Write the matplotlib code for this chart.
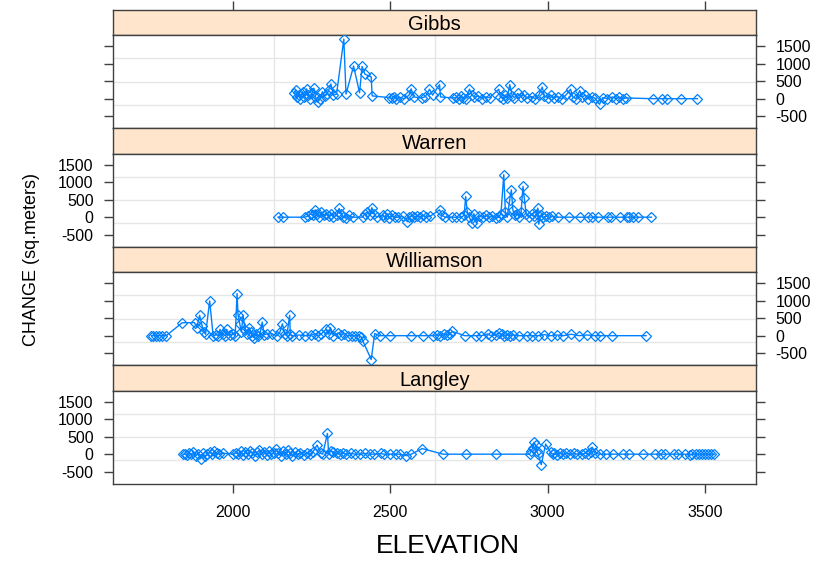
import matplotlib
matplotlib.use("Agg")
import matplotlib.pyplot as plt

plt.rcParams['font.family'] = ['Liberation Sans', 'DejaVu Sans']

sites = ["Gibbs", "Warren", "Williamson", "Langley"]

gibbs_elev = [2195, 2200, 2205, 2210, 2215, 2222, 2228, 2235, 2240, 2247, 2252, 2258, 2263, 2270,
              2278, 2285, 2292, 2300, 2305, 2312, 2320, 2330, 2353, 2360, 2384, 2403, 2411, 2420,
              2440, 2443, 2498, 2505, 2512, 2520, 2530, 2545, 2560, 2567, 2575, 2600, 2612, 2625,
              2635, 2657, 2660, 2700, 2710, 2718, 2725, 2732, 2740, 2752, 2760, 2768, 2780, 2792,
              2805, 2816, 2845, 2850, 2858, 2866, 2872, 2880, 2888, 2895, 2905, 2915, 2925, 2935,
              2950, 2960, 2972, 2983, 2990, 3000, 3010, 3020, 3032, 3045, 3058, 3073, 3080, 3090,
              3102, 3110, 3120, 3130, 3140, 3150, 3165, 3175, 3190, 3206, 3218, 3228, 3240, 3250,
              3334, 3365, 3378, 3425, 3476]
gibbs_change = [150, 250, 50, 100, 0, 200, 50, 280, 100, 0, 150, 300, 50, -100,
                0, 200, 80, 120, 250, 420, 100, 130, 1700, 130, 930, 170, 920, 700,
                620, 80, 30, 10, 60, 0, 40, 0, 100, 280, 50, 20, 60, 270,
                100, 400, 50, 20, 40, 0, 80, 30, 0, 270, 100, 40, 80, 0,
                50, 30, 270, 50, 0, 100, 30, 400, 80, 30, 150, 60, 100, 20,
                60, 0, 100, 330, 80, 30, 100, 20, 60, 0, 100, 270, 50, 0,
                230, 50, 100, 0, 60, 20, -160, 30, 0, 50, 0, 40, 0, 20,
                0, 0, 0, 0, 0]

warren_elev = [2144, 2160, 2229, 2240, 2248, 2255, 2262, 2268, 2275, 2282, 2290, 2298, 2305, 2312,
               2320, 2330, 2338, 2345, 2352, 2360, 2368, 2381, 2413, 2420, 2428, 2435, 2442, 2450,
               2457, 2476, 2482, 2490, 2498, 2505, 2515, 2525, 2540, 2555, 2560, 2568, 2575, 2585,
               2595, 2605, 2615, 2626, 2657, 2665, 2675, 2698, 2710, 2725, 2735, 2740, 2745, 2752,
               2759, 2766, 2775, 2782, 2794, 2805, 2815, 2825, 2837, 2845, 2852, 2861, 2866, 2872,
               2880, 2885, 2890, 2896, 2903, 2910, 2916, 2922, 2926, 2932, 2940, 2950, 2958, 2965,
               2969, 2972, 2978, 2985, 2995, 3005, 3015, 3032, 3067, 3102, 3128, 3140, 3159, 3191,
               3203, 3229, 3251, 3260, 3270, 3286, 3330]
warren_change = [0, 0, 0, 30, 100, 50, 210, 100, 0, 150, 50, 100, 20, 80,
                 0, 50, 250, 100, 0, -30, 60, 0, 0, 100, 150, 50, 270, 100,
                 0, 50, 0, 100, -20, 60, 0, 0, 20, -130, 0, 40, 0, 30,
                 0, 50, 0, 20, 210, 50, 0, 0, 0, 0, 50, 590, 150, 0,
                 -170, 100, -170, 30, 0, 50, 0, 30, -30, 0, 100, 1210, 150, 0,
                 500, 780, 200, 50, 100, 0, 150, 880, 560, 100, 0, 80, 20, 100,
                 260, -200, 50, 0, 30, 0, 20, 0, 0, 0, 0, 0, 0, 0,
                 0, 0, 0, 0, 0, 0, 0]

williamson_elev = [1742, 1748, 1755, 1765, 1775, 1789, 1840, 1879, 1886, 1895, 1903, 1910, 1914, 1927,
                   1938, 1948, 1955, 1960, 1968, 1975, 1981, 1990, 2000, 2008, 2014, 2017, 2023, 2028,
                   2033, 2040, 2045, 2052, 2058, 2063, 2068, 2075, 2082, 2088, 2094, 2100, 2110, 2125,
                   2140, 2150, 2158, 2165, 2172, 2181, 2183, 2190, 2210, 2230, 2250, 2260, 2270, 2280,
                   2296, 2305, 2310, 2320, 2335, 2345, 2355, 2365, 2380, 2390, 2400, 2408, 2414, 2440,
                   2451, 2467, 2499, 2567, 2604, 2635, 2650, 2660, 2672, 2680, 2690, 2698, 2737, 2772,
                   2790, 2810, 2820, 2835, 2845, 2855, 2862, 2870, 2880, 2890, 2910, 2935, 2952, 2969,
                   2990, 3010, 3030, 3050, 3075, 3100, 3125, 3150, 3165, 3205, 3313]
williamson_change = [0, 0, 0, 0, 0, 0, 370, 370, 230, 580, 280, 100, 40, 990,
                     0, 30, 0, 180, 50, 0, 180, 20, 60, 0, 1200, 600, 320, 100,
                     580, 150, 50, 230, 100, 0, -60, 50, 0, 100, 390, 30, 50, 50,
                     0, 100, 340, 60, 0, 580, 40, 0, 20, 0, 10, 60, 0, 40,
                     180, 40, 230, 0, 80, 30, 60, 0, 0, 0, 0, -30, -160, -680,
                     60, 0, 0, 0, 0, 0, 30, 0, 50, 20, 60, 120, 0, 0,
                     0, 50, 0, 20, 80, 40, 0, 30, 0, 20, 0, 0, 0, 0,
                     30, 0, 20, 0, 40, 0, 20, 0, 0, 0, 0]

langley_elev = [1842, 1850, 1856, 1862, 1868, 1875, 1882, 1890, 1898, 1905, 1912, 1920, 1928, 1935,
                1942, 1950, 1958, 1969, 2000, 2010, 2018, 2025, 2033, 2040, 2048, 2055, 2062, 2070,
                2078, 2085, 2092, 2100, 2108, 2115, 2122, 2130, 2138, 2145, 2152, 2160, 2168, 2175,
                2182, 2190, 2198, 2206, 2215, 2225, 2235, 2245, 2254, 2268, 2280, 2286, 2301, 2305,
                2312, 2320, 2330, 2340, 2350, 2360, 2375, 2390, 2405, 2420, 2435, 2450, 2470, 2480,
                2500, 2520, 2530, 2551, 2567, 2602, 2668, 2742, 2837, 2943, 2948, 2953, 2957, 2962,
                2966, 2970, 2980, 2994, 3010, 3016, 3022, 3030, 3040, 3050, 3060, 3072, 3085, 3095,
                3108, 3120, 3130, 3138, 3142, 3150, 3165, 3186, 3207, 3239, 3260, 3303, 3340, 3361,
                3372, 3403, 3414, 3435, 3451, 3460, 3470, 3480, 3490, 3500, 3510, 3520, 3530]
langley_change = [0, 0, -30, 30, 0, 50, -40, 0, -130, 20, -50, 0, 60, 0,
                  80, 20, 0, 30, 0, 40, 0, 80, -20, 60, 0, 100, 30, -40,
                  50, 120, 0, 60, -30, 100, 0, 40, 150, 20, -40, 80, 0, 120,
                  30, -50, 60, 0, 40, -30, 20, 0, 50, 260, 20, 0, 590, 0,
                  100, 60, 20, 0, 30, 0, 20, 0, 0, 20, 0, 0, 20, 0,
                  0, 0, 0, -40, 0, 160, 0, 0, 0, 0, 100, 170, 340, 250,
                  80, 0, -300, 290, 50, 0, 30, -20, 40, 0, 30, 0, 20, 0,
                  0, 30, 0, 60, 200, 30, 0, 0, 0, 0, 0, 0, 0, 0,
                  0, 0, 0, 0, -20, 0, 0, 0, 0, 0, 0, 0, 0]

elevs = [gibbs_elev, warren_elev, williamson_elev, langley_elev]
changes = [gibbs_change, warren_change, williamson_change, langley_change]

x_ticks = [2000, 2500, 3000, 3500]
y_ticks = [-500, 0, 500, 1000, 1500]
xlim = (1620, 3662)
ylim = (-836, 1816)

W, H = 821, 563
fig = plt.figure(figsize=(W / 100, H / 100), dpi=100)

left_px, right_px = 113, 756
top0 = 9.5
block = 118.5
strip_h = 25.5
panel_h = block - strip_h

frame_col = '#404040'
line_col = '#0080ff'
grid_col = '#e6e6e6'

def fy(px):
    return 1 - px / H

for i, site in enumerate(sites):
    btop = top0 + i * block
    # strip
    sax = fig.add_axes([left_px / W, fy(btop + strip_h), (right_px - left_px) / W, strip_h / H])
    sax.set_facecolor('#ffe5cc')
    sax.set_xlim(*xlim)
    sax.set_ylim(0, 1)
    sax.set_yticks([])
    for sp in sax.spines.values():
        sp.set_color(frame_col)
        sp.set_linewidth(1.0)
    sax.text(0.5, 0.40, site, transform=sax.transAxes, ha='center', va='center', fontsize=14.5)
    if i == 0:
        sax.xaxis.set_ticks_position('top')
        sax.set_xticks(x_ticks)
        sax.tick_params(axis='x', direction='out', length=6.5, width=1.0, color=frame_col,
                        labeltop=False, labelbottom=False, top=True, bottom=False)
    else:
        sax.set_xticks([])

    # panel
    ax = fig.add_axes([left_px / W, fy(btop + block), (right_px - left_px) / W, panel_h / H])
    ax.set_xlim(*xlim)
    ax.set_ylim(*ylim)
    for f in (0.25, 0.5, 0.75):
        ax.axvline(xlim[0] + f * (xlim[1] - xlim[0]), color=grid_col, lw=1.0, zorder=0)
        ax.axhline(ylim[0] + f * (ylim[1] - ylim[0]), color=grid_col, lw=1.0, zorder=0)
    ax.plot(elevs[i], changes[i], color=line_col, lw=1.0, marker='D', markersize=4.8,
            markerfacecolor='none', markeredgecolor=line_col, markeredgewidth=0.9, zorder=3)
    for sp in ax.spines.values():
        sp.set_color(frame_col)
        sp.set_linewidth(1.0)
    ax.set_yticks(y_ticks)
    ax.set_yticklabels([str(v) for v in y_ticks])
    labels_right = (i % 2 == 0)
    ax.tick_params(axis='y', direction='out', length=6.5, width=1.0, color=frame_col,
                   left=True, right=True, labelleft=not labels_right, labelright=labels_right,
                   labelsize=11.5, pad=7.5)
    ax.set_xticks(x_ticks)
    if i == len(sites) - 1:
        ax.tick_params(axis='x', direction='out', length=6.5, width=1.0, color=frame_col,
                       labelsize=11.5, pad=9, top=False, bottom=True)
    else:
        ax.tick_params(axis='x', length=0, labelbottom=False)

fig.text(31 / W, fy(260), "CHANGE (sq.meters)", rotation=90, ha='center', va='center', fontsize=13)
fig.text(448 / W, fy(546), "ELEVATION", ha='center', va='center', fontsize=19)

fig.savefig("out.png", dpi=100, facecolor='white')
